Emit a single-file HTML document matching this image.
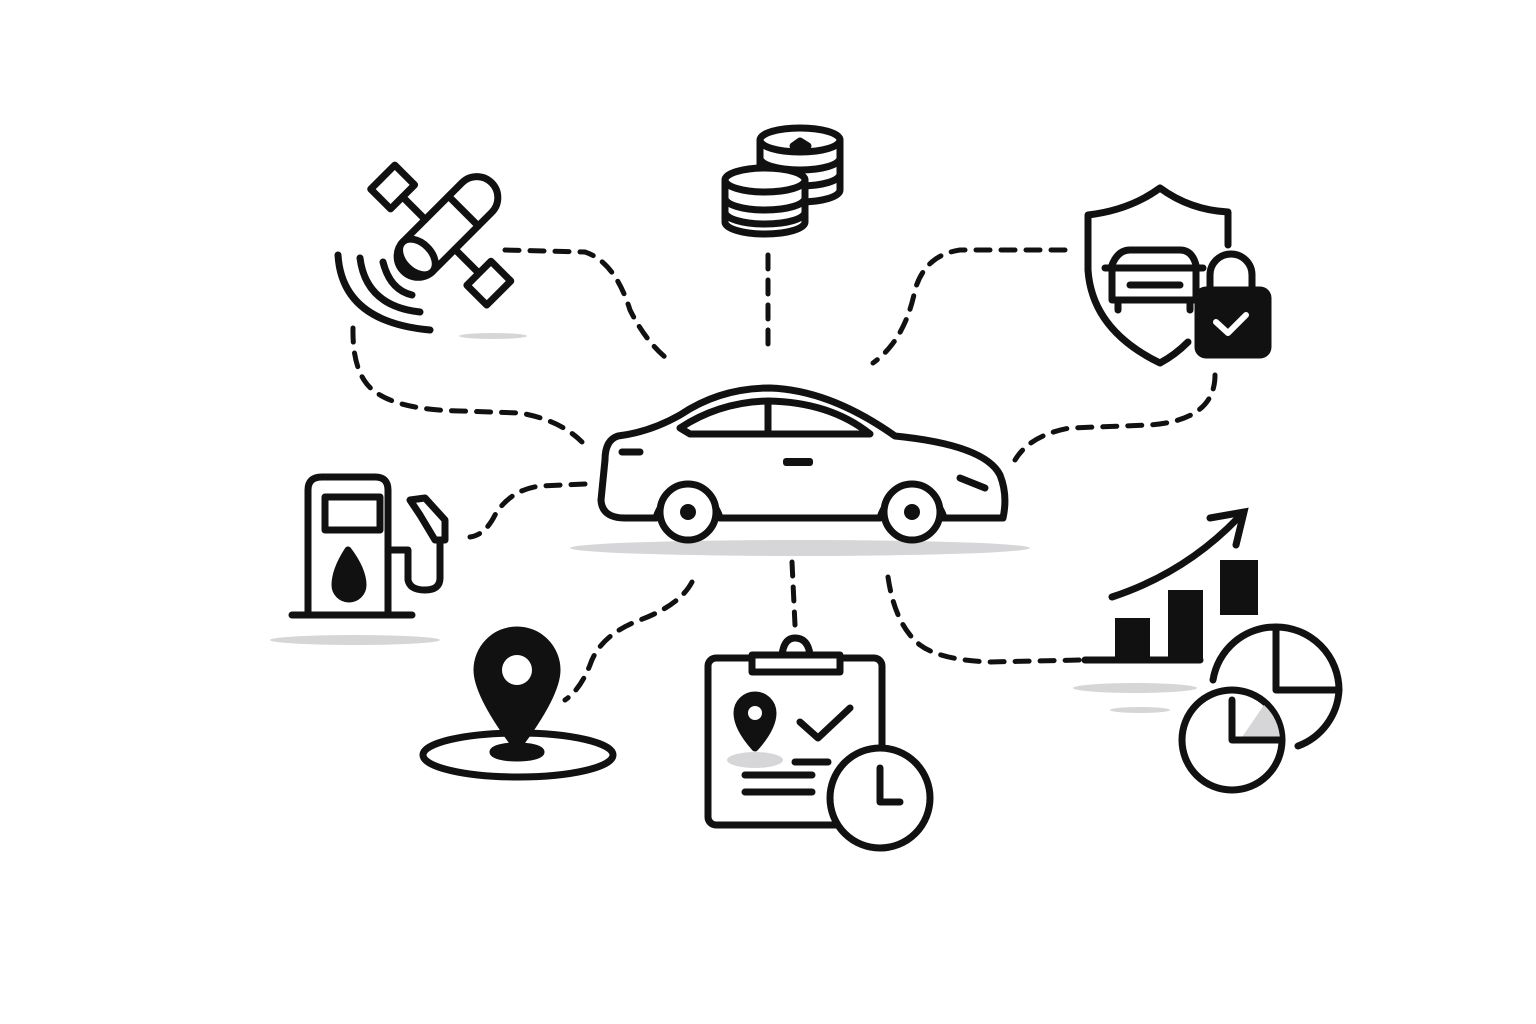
<!DOCTYPE html>
<html><head><meta charset="utf-8"><style>html,body{margin:0;padding:0;background:#fff}svg{display:block}</style></head>
<body>
<svg width="1536" height="1024" viewBox="0 0 1536 1024" xmlns="http://www.w3.org/2000/svg">
<rect width="1536" height="1024" fill="#fff"/>
<g fill="#d6d6d8">
<ellipse cx="800" cy="548" rx="230" ry="8"/>
<ellipse cx="355" cy="640" rx="85" ry="5"/>
<ellipse cx="493" cy="336" rx="34" ry="3"/>
<ellipse cx="1135" cy="688" rx="62" ry="5"/>
<ellipse cx="1140" cy="710" rx="30" ry="3"/>
</g>
<!-- dashed connectors -->
<g fill="none" stroke="#111" stroke-width="5" stroke-dasharray="14 11" stroke-linecap="round">
<path d="M505 250 L585 252 Q615 262 630 310 Q645 340 665 357"/>
<path d="M353 328 Q352 380 380 395 Q405 410 460 411 L520 413 Q560 420 582 442"/>
<path d="M768 255 L768 350"/>
<path d="M1065 250 L960 250 Q925 255 915 290 Q905 340 873 363"/>
<path d="M1215 375 Q1215 420 1150 425 L1070 428 Q1030 435 1015 460"/>
<path d="M585 484 L540 486 Q510 490 495 515 Q485 535 470 537"/>
<path d="M692 582 Q680 605 640 620 Q600 635 590 665 Q580 690 565 700"/>
<path d="M792 562 L795 625"/>
<path d="M888 577 Q895 625 920 645 Q940 660 990 662 L1080 660"/>
</g>
<g fill="none" stroke="#111" stroke-width="7" stroke-linecap="round" stroke-linejoin="round">
<!-- car -->
<path fill="#fff" d="M940 518 L1003 518 Q1008 495 1000 475 Q985 445 895 436 Q830 390 770 388 Q720 388 680 415 Q650 432 618 436 Q605 440 605 460 L601 500 Q602 518 625 518 L656 518 A33 33 0 0 1 720 518 L880 518 A33 33 0 0 1 944 518 Z"/>
<path d="M680 428 Q720 402 768 401 Q830 402 870 434 L690 434 Z"/>
<path d="M768 401 L768 434"/>
<path d="M622 452 L640 452"/>
<path d="M960 478 L985 488"/>
<rect x="783" y="458" width="30" height="8" rx="3" fill="#111" stroke="none"/>
<circle cx="688" cy="512" r="28" fill="#fff"/>
<circle cx="688" cy="512" r="8" fill="#111" stroke="none"/>
<circle cx="912" cy="512" r="28" fill="#fff"/>
<circle cx="912" cy="512" r="8" fill="#111" stroke="none"/>
<!-- coins -->
<path fill="#fff" d="M760 140 L760 190 A40 12 0 0 0 840 190 L840 140"/>
<ellipse cx="800" cy="140" rx="40" ry="12" fill="#fff"/>
<path d="M760 158 A40 12 0 0 0 840 158 M760 174 A40 12 0 0 0 840 174"/>
<path d="M793 146 L800 141 L808 146 L800 151 Z" fill="#111"/>
<path fill="#fff" d="M725 180 L725 222 A40 12 0 0 0 805 222 L805 180"/>
<ellipse cx="765" cy="180" rx="40" ry="12" fill="#fff"/>
<path d="M725 198 A40 12 0 0 0 805 198 M725 212 A40 12 0 0 0 805 212"/>
<!-- satellite -->
<g transform="rotate(-45 445 228)">
<rect x="385" y="208" width="125" height="42" rx="21" fill="#fff"/>
<ellipse cx="405" cy="229" rx="14" ry="21" fill="#fff"/>
<path d="M470 208 L470 250"/>
<rect x="420" y="148" width="34" height="28" fill="#fff" transform="rotate(0)"/>
<path d="M437 176 L437 208 M437 250 L437 284"/>
<rect x="420" y="284" width="34" height="28" fill="#fff"/>
</g>
<path d="M338 255 Q342 322 430 330"/>
<path d="M360 258 Q366 306 420 312"/>
<path d="M383 262 Q390 290 412 295"/>
<!-- shield -->
<path d="M1228 245 L1228 212 Q1190 210 1160 188 Q1130 210 1088 215 L1088 270 Q1092 330 1160 363 Q1175 355 1188 342"/>
<path d="M1112 265 Q1118 250 1130 250 L1180 250 Q1192 250 1196 265 L1196 300 L1112 300 Z"/>
<path d="M1105 268 L1203 268"/>
<path d="M1130 285 L1180 285"/>
<path d="M1118 300 L1118 310 M1190 300 L1190 310"/>
<path d="M1210 290 L1210 275 A20 20 0 0 1 1252 275 L1252 290"/>
<rect x="1198" y="290" width="70" height="65" rx="8" fill="#111"/>
<path d="M1216 322 L1228 333 L1246 315" stroke="#fff" stroke-width="6"/>
<!-- fuel pump -->
<path fill="#fff" d="M308 612 L308 490 Q308 477 322 477 L375 477 Q388 477 388 490 L388 612"/>
<rect x="325" y="497" width="55" height="33"/>
<path d="M348 550 Q335 570 335 585 A14 14 0 0 0 363 585 Q363 570 348 550 Z" fill="#111"/>
<path d="M292 615 L412 615"/>
<path d="M388 550 L408 550 L408 580 Q410 590 425 590 Q440 590 440 578 L440 540"/>
<path d="M410 500 L425 498 L445 520 L445 540 L435 540 L420 515 Z" fill="#fff"/>
<!-- location pin -->
<path d="M517 630 A40 40 0 0 1 557 670 Q557 695 517 748 Q477 695 477 670 A40 40 0 0 1 517 630 Z" fill="#111"/>
<circle cx="517" cy="670" r="15" fill="#fff" stroke="none"/>
<ellipse cx="518" cy="755" rx="95" ry="22"/>
<ellipse cx="517" cy="752" rx="24" ry="6" fill="#111"/>
<!-- clipboard -->
<rect x="708" y="658" width="174" height="167" rx="8" fill="#fff"/>
<path d="M752 672 L752 655 L840 655 L840 672 Z" fill="#fff"/>
<path d="M782 655 Q784 638 795 638 Q808 638 810 655"/>
<ellipse cx="755" cy="760" rx="28" ry="8" fill="#d6d6d8" stroke="none"/>
<path d="M755 695 A18 18 0 0 1 773 713 Q773 728 755 748 Q737 728 737 713 A18 18 0 0 1 755 695 Z" fill="#111"/>
<circle cx="755" cy="713" r="7" fill="#fff" stroke="none"/>
<path d="M800 722 L818 738 L850 708"/>
<path d="M745 775 L812 775 M745 792 L812 792 M795 762 L828 762"/>
<circle cx="880" cy="798" r="50" fill="#fff"/>
<path d="M880 768 L880 802 L900 802"/>
<!-- charts -->
<path d="M1085 660 L1200 660"/>
<rect x="1115" y="618" width="35" height="42" fill="#111" stroke="none"/>
<rect x="1168" y="590" width="35" height="70" fill="#111" stroke="none"/>
<rect x="1220" y="560" width="38" height="55" fill="#111" stroke="none"/>
<path d="M1112 597 Q1185 573 1238 518"/>
<path d="M1210 518 L1244 512 L1236 545" stroke-linejoin="miter"/>
<path d="M1213 680 A63 63 0 0 1 1276 627 L1276 690 L1339 690 A63 63 0 0 1 1298 746"/>
<path d="M1276 627 A63 63 0 0 1 1339 690"/>
<circle cx="1232" cy="740" r="50" fill="#fff"/>
<path d="M1240 740 L1280 740 A48 48 0 0 0 1264 705 Z" fill="#d6d6d8" stroke="none"/>
<path d="M1232 700 L1232 740 L1282 740"/>
</g>
</svg>
</body></html>
